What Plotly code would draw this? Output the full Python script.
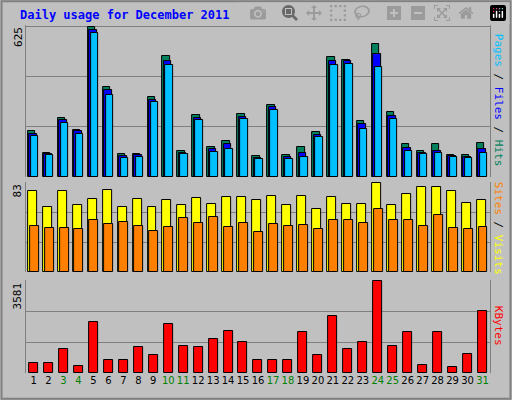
import plotly.graph_objects as go

days = list(range(1, 32))
weekend = {3, 4, 10, 11, 17, 18, 24, 25, 31}

hits = [189,101,247,197,625,373,96,96,331,503,109,256,126,151,260,88,298,92,126,185,499,487,231,554,268,138,109,138,92,92,143]
files = [180,95,235,190,610,360,88,90,320,480,100,245,115,135,250,80,290,85,100,175,480,480,220,512,255,120,100,110,88,85,115]
pages = [172,90,225,180,596,340,80,85,310,465,95,235,105,115,240,75,280,75,85,165,465,470,200,457,240,110,95,100,85,80,100]
visits = [75,61,75,62,68,76,61,68,61,67,62,69,63,70,70,67,71,62,71,59,70,63,63,83,62,73,79,79,75,64,67]
sites = [43,41,41,40,48,45,47,43,38,42,50,46,51,42,46,37,45,43,44,40,48,48,46,59,48,48,43,53,41,40,42]
kbytes = [398,398,915,278,1989,517,517,995,716,1910,1034,995,1313,1631,1194,517,517,517,1591,716,2228,915,1194,3581,1034,1591,318,1591,239,756,2427]

fig = go.Figure()
line = dict(color="black", width=1)
def bars(vals, color, off, w, ya):
    fig.add_trace(go.Bar(x=days, y=vals, marker=dict(color=color, line=line),
                         offset=off, width=w, xaxis="x", yaxis=ya, showlegend=False))

bars(hits, "#00805C", -0.38, 0.5, "y")
bars(files, "#0000FF", -0.28, 0.5, "y")
bars(pages, "#00C0FF", -0.18, 0.5, "y")
bars(visits, "#FFFF00", -0.38, 0.6, "y2")
bars(sites, "#FF8000", -0.26, 0.6, "y2")
bars(kbytes, "#FF0000", -0.3, 0.6, "y3")

def yax(dom, mx):
    return dict(domain=dom, range=[0, mx * 1.01], tickvals=[mx/3, 2*mx/3, mx], showticklabels=False,
                showgrid=True, gridcolor="#808080", zeroline=False, anchor="x",
                showline=True, linecolor="#808080", mirror=True, fixedrange=True)

fig.update_layout(
    width=512, height=400, margin=dict(l=0, r=0, t=0, b=0),
    paper_bgcolor="#C0C0C0", plot_bgcolor="#C0C0C0", barmode="overlay", bargap=0,
    xaxis=dict(domain=[0.051, 0.957], range=[0.5, 31.5], tickvals=days, ticktext=[
        f"<span style='color:{'#008000' if d in weekend else 'black'}'>{d}</span>" for d in days],
        ticks="", tickangle=0, tickfont=dict(family="DejaVu Sans", size=10), showgrid=False, anchor="y3"),
    yaxis=yax([0.5575, 0.9375], 625),
    yaxis2=yax([0.32, 0.545], 83),
    yaxis3=yax([0.0675, 0.30], 3581),
)

ann = [dict(x=0.035, y=0.94, xref="paper", yref="paper", text="Daily usage for December 2011",
            showarrow=False, xanchor="left", yanchor="bottom",
            font=dict(family="DejaVu Sans Mono", size=12, color="#0000FF", weight="bold"))]
for y, t in [(0.9375, "625"), (0.545, "83"), (0.30, "3581")]:
    ann.append(dict(x=0.035, y=y, xref="paper", yref="paper", text=t, textangle=-90, showarrow=False,
                    xanchor="center", yanchor="top", font=dict(family="DejaVu Sans Mono", size=11, color="black")))
def side(y, parts):
    txt = "<span style='color:black'> / </span>".join(f"<span style='color:{c}'>{s}</span>" for s, c in parts)
    ann.append(dict(x=0.975, y=y, xref="paper", yref="paper", text=txt, textangle=90, showarrow=False,
                    xanchor="center", yanchor="middle", font=dict(family="DejaVu Sans Mono", size=11)))
side(0.75, [("Pages", "#00C0FF"), ("Files", "#0000FF"), ("Hits", "#00805C")])
side(0.43, [("Sites", "#FF8000"), ("Visits", "#FFFF00")])
side(0.185, [("KBytes", "#FF0000")])
fig.update_layout(annotations=ann)
fig.add_shape(type="rect", xref="paper", yref="paper", x0=0.003, y0=0.003, x1=0.997, y1=0.997,
              line=dict(color="#808080", width=2))
fig.write_html("out.html", post_script="document.body.style.margin='0';document.body.style.overflow='hidden';")
